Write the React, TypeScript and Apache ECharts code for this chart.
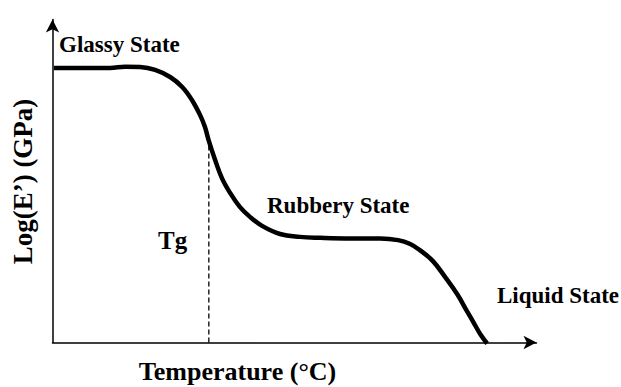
import React, { useEffect, useRef } from "react";
import * as echarts from "echarts";

// Schematic storage-modulus curve (normalized units, 0-100)
const temperature = [0.3, 5.7, 11.9, 15.0, 18.1, 21.2, 24.3, 26.8, 28.8, 30.5, 31.5, 32.3, 33.6, 35.0, 36.7, 38.7, 40.8, 43.3, 47.0, 51.1, 55.3, 61.5, 67.7, 71.4, 73.9, 75.9, 78.6, 81.1, 83.6, 85.6, 87.3, 88.5, 89.8];
const logModulus = [85.0, 85.0, 85.0, 85.4, 85.3, 84.4, 82.2, 79.1, 75.1, 70.4, 66.7, 62.4, 56.5, 50.9, 46.3, 42.0, 38.9, 36.1, 33.6, 32.7, 32.4, 32.2, 32.2, 31.7, 30.5, 28.6, 25.2, 20.3, 15.0, 9.8, 5.4, 2.3, -0.3];

const tgTemperature = 32.3;
const tgModulus = 61.8;

const stateLabels = ["Glassy State", "Rubbery State", "Liquid State"];
const tgLabel = "Tg";
const xAxisName = "Temperature (°C)";
const yAxisName = "Log(E’) (GPa)";

const FONT = "Liberation Serif, serif";

export default function App() {
  const ref = useRef<HTMLDivElement>(null);
  useEffect(() => {
    if (!ref.current) return;
    const chart = echarts.init(ref.current, null, { renderer: "svg" });
    const curve = temperature.map((t, i) => [t, logModulus[i]]);
    const textStyle = (size: number) => ({
      fontFamily: FONT,
      fontWeight: "bold" as const,
      fontSize: size,
      fill: "#000",
      verticalAlign: "middle" as const,
    });
    chart.setOption({
      animation: false,
      backgroundColor: "#fff",
      grid: { left: 52.5, right: 84.5, top: 19.5, bottom: 44.5 },
      xAxis: {
        type: "value",
        min: 0,
        max: 100,
        axisLine: {
          show: true,
          lineStyle: { color: "#000", width: 1.5 },
          symbol: ["none", "arrow"],
          symbolSize: [10, 13],
        },
        axisTick: { show: false },
        axisLabel: { show: false },
        splitLine: { show: false },
      },
      yAxis: {
        type: "value",
        min: 0,
        max: 100,
        axisLine: {
          show: true,
          lineStyle: { color: "#000", width: 1.5 },
          symbol: ["none", "arrow"],
          symbolSize: [10, 13],
        },
        axisTick: { show: false },
        axisLabel: { show: false },
        splitLine: { show: false },
      },
      series: [
        {
          type: "line",
          data: curve,
          smooth: 0.4,
          symbol: "none",
          clip: false,
          lineStyle: { color: "#000", width: 4.5 },
        },
        {
          type: "line",
          data: [
            [tgTemperature, 0],
            [tgTemperature, tgModulus],
          ],
          symbol: "none",
          lineStyle: { color: "#000", width: 1.3, type: [5, 3] },
          z: 1,
        },
      ],
      graphic: [
        { type: "text", x: 59, y: 44.7, style: { ...textStyle(23), text: stateLabels[0], align: "left" } },
        { type: "text", x: 267, y: 205.5, style: { ...textStyle(23), text: stateLabels[1], align: "left" } },
        { type: "text", x: 497, y: 295.5, style: { ...textStyle(23), text: stateLabels[2], align: "left" } },
        { type: "text", x: 158, y: 240.2, style: { ...textStyle(25), text: tgLabel, align: "left" } },
        { type: "text", x: 237.5, y: 371.5, style: { ...textStyle(26), text: xAxisName, align: "center" } },
        {
          type: "text",
          x: 22.6,
          y: 181.5,
          rotation: Math.PI / 2,
          style: { ...textStyle(27), text: yAxisName, align: "center" },
        },
      ],
    });
    return () => chart.dispose();
  }, []);
  return <div ref={ref} style={{ width: 621, height: 387, position: "absolute", left: 0, top: 0 }} />;
}
